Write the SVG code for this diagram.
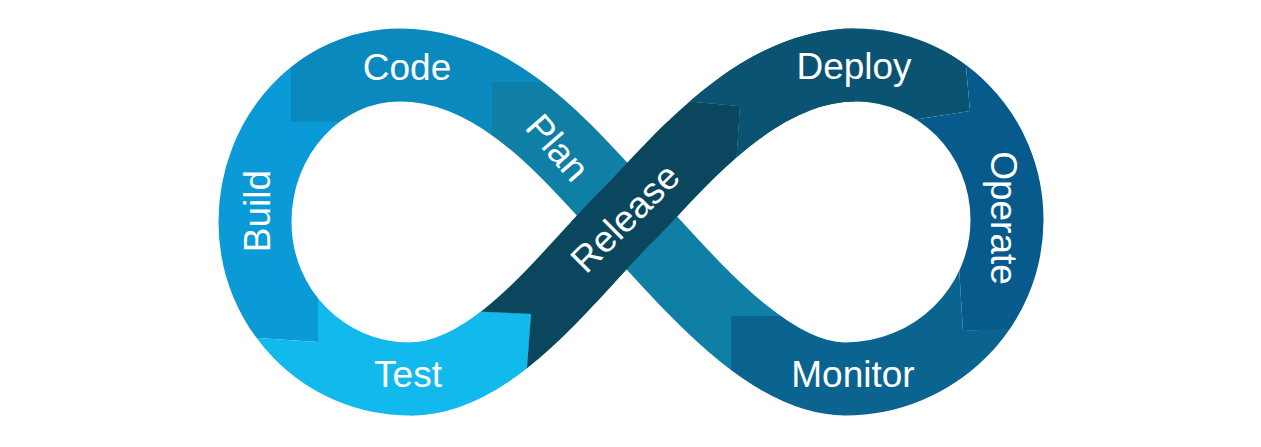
<svg xmlns="http://www.w3.org/2000/svg" width="1261" height="447" viewBox="0 0 1261 447">
  <defs>
    <style>
      .lbl { fill: #ffffff; font-family: "Liberation Sans", Arial, sans-serif; font-size: 37px; text-anchor: middle; }
      .band { fill: none; stroke: #ffffff; stroke-width: 73; stroke-linecap: butt; stroke-linejoin: round; }
      .mA { mask: url(#mA); }
      .mR { mask: url(#mR); }
    </style>
    <mask id="mA" maskUnits="userSpaceOnUse" x="0" y="0" width="1261" height="447">
      <path class="band" d="M627,216 C572,158 500,65 400,65 C320,65 255,135 255,222 C255,309 324,379 410,379 C495,379 570,272 627,216 C670,174 752,65 855,65 C939,65 1007,134 1007,220 C1007,308 934,379 845,379 C765,379 682,274 627,216 Z"/>
    </mask>
    <mask id="mR" maskUnits="userSpaceOnUse" x="0" y="0" width="1261" height="447">
      <path class="band" d="M410,379 C495,379 570,272 627,216 C670,174 752,65 855,65"/>
    </mask>
  </defs>
  <rect width="1261" height="447" fill="#ffffff"/>

  <g id="plan">
    <polygon class="mA" fill="#0f7fa5" points="492,82 600,82 800,200 800,316 731,316 731,447 560,447 560,400 627,216 492,230"/>
    <text class="lbl" transform="translate(548,156) rotate(49)">Plan</text>
  </g>

  <g id="code">
    <polygon class="mA" fill="#0a89bf" points="492,82 600,82 600,0 291,0 291,122 400,122 492,200"/>
    <text class="lbl" x="407" y="80">Code</text>
  </g>

  <g id="build">
    <polygon class="mA" fill="#0a9ad7" points="291,122 291,0 150,0 150,338 258,338 318,342 318,200 360,122"/>
    <text class="lbl" transform="translate(270,211) rotate(-90)">Build</text>
  </g>

  <g id="test">
    <polygon class="mA" fill="#12b9ed" points="318,342 258,338 150,338 150,447 521,447 531,314 420,309 318,250"/>
    <polygon class="mR" fill="#12b9ed" points="318,342 258,338 150,338 150,447 521,447 531,314 420,309 318,250"/>
    <text class="lbl" x="408" y="387">Test</text>
  </g>

  <g id="release">
    <polygon class="mR" fill="#0a475e" points="420,309 531,314 521,447 760,447 734,200 740,106 650,98 560,90 420,200"/>
    <text class="lbl" transform="translate(634,227) rotate(-45)">Release</text>
  </g>

  <g id="deploy">
    <polygon class="mA" fill="#0b5373" points="740,106 650,98 650,0 960,0 970,111 900,122 850,200 734,200"/>
    <polygon class="mR" fill="#0b5373" points="740,106 650,98 650,0 960,0 970,111 900,122 850,200 734,200"/>
    <text class="lbl" x="854" y="79">Deploy</text>
  </g>

  <g id="operate">
    <polygon class="mA" fill="#065b8c" points="970,111 960,0 1200,0 1200,322 963,331 958,250 900,200 900,122"/>
    <text class="lbl" transform="translate(991,218) rotate(90)">Operate</text>
  </g>

  <g id="monitor">
    <polygon class="mA" fill="#0b648f" points="731,316 731,447 1100,447 1100,323 963,331 958,250 800,250 790,316"/>
    <text class="lbl" x="853" y="387">Monitor</text>
  </g>
</svg>
